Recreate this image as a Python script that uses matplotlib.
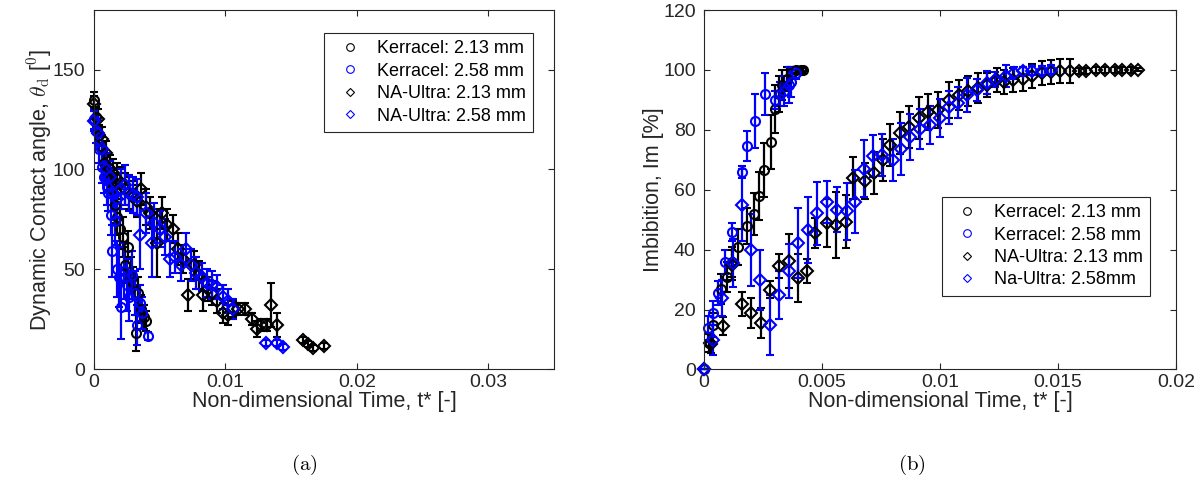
import numpy as np
import matplotlib
matplotlib.use('Agg')
import matplotlib.pyplot as plt
from matplotlib.lines import Line2D

plt.rcParams['font.family'] = ['Liberation Sans', 'DejaVu Sans']
plt.rcParams['mathtext.fontset'] = 'cm'

# ---------- (a) dynamic contact angle ----------
a_k213_t = [0, 0.0002, 0.0004, 0.0006, 0.0008, 0.0010, 0.0012, 0.0014, 0.0016, 0.0018,
            0.0020, 0.0022, 0.0024, 0.0026, 0.0028, 0.0030, 0.0032, 0.0034, 0.0036, 0.0038, 0.0040]
a_k213_th = [135, 126, 117, 110, 103, 99, 95, 90, 82, 76, 70, 66, 52, 61, 47, 43, 18, 38, 30, 26, 24]
a_k213_err = [4, 5, 5, 6, 6, 7, 7, 8, 9, 9, 10, 10, 9, 8, 9, 8, 9, 8, 7, 6, 5]

a_k258_t = [0, 0.0002, 0.0004, 0.0006, 0.0008, 0.0010, 0.0011, 0.0013, 0.0014, 0.0016, 0.0018,
            0.0019, 0.0021, 0.0023, 0.0025, 0.0027, 0.0029, 0.0031, 0.0033, 0.0035, 0.0037, 0.0041]
a_k258_th = [125, 119, 110, 101, 96, 91, 88, 77, 59, 74, 50, 46, 31, 49, 42, 36, 47, 38, 22, 33, 28, 16.5]
a_k258_err = [5, 6, 7, 8, 8, 9, 9, 10, 13, 12, 14, 15, 16, 14, 13, 12, 12, 11, 10, 9, 8, 2]

a_na213_t = [0, 0.0003, 0.0006, 0.0009, 0.0012, 0.0015, 0.0018, 0.0021, 0.0024, 0.0027,
             0.0030, 0.0033, 0.0036, 0.0040, 0.0043, 0.0048, 0.0052, 0.0056, 0.0060, 0.0064,
             0.0068, 0.0072, 0.0076, 0.0080, 0.0083, 0.0087, 0.0090, 0.0094, 0.0098, 0.0102,
             0.0106, 0.0110, 0.0115, 0.0120, 0.0124, 0.0127, 0.0132, 0.0135, 0.0139, 0.0159,
             0.0163, 0.0167, 0.0175]
a_na213_th = [133, 125, 115, 108, 100, 98, 95, 93, 90, 88, 86, 84, 90, 81, 78, 63, 78, 72, 70, 60,
              55, 37, 52, 47, 37, 40, 38, 34, 28, 27, 30, 30, 30, 25, 20, 22, 22, 32, 22, 14.5,
              12.5, 10.7, 11.5]
a_na213_err = [4, 5, 6, 6, 7, 7, 8, 8, 8, 8, 8, 8, 8, 9, 8, 17, 8, 8, 7, 8,
               7, 8, 7, 7, 8, 6, 6, 6, 5, 5, 4, 3, 3, 3, 4, 3, 3, 11, 6, 1.5,
               1.5, 1.5, 1.5]

a_na258_t = [0, 0.0003, 0.0006, 0.0009, 0.0012, 0.0015, 0.0018, 0.0021, 0.0024, 0.0027,
             0.0030, 0.0033, 0.0035, 0.0040, 0.0044, 0.0046, 0.0050, 0.0054, 0.0058, 0.0062,
             0.0066, 0.0070, 0.0074, 0.0078, 0.0082, 0.0086, 0.0090, 0.0094, 0.0098, 0.0102,
             0.0106, 0.0131, 0.0139, 0.0144]
a_na258_th = [124, 118, 110, 100, 96, 88, 85, 90, 92, 88, 87, 86, 67, 78, 63, 73, 70, 66, 55, 56,
              52, 60, 52, 48, 46, 43, 42, 41, 36, 34, 30, 13, 13, 11]
a_na258_err = [5, 6, 7, 8, 8, 9, 9, 10, 10, 9, 9, 9, 17, 10, 17, 10, 9, 9, 9, 8,
               8, 8, 8, 8, 7, 7, 7, 6, 6, 6, 5, 1.5, 1.5, 1.5]

# ---------- (b) imbibition ----------
b_k213_t = [0, 0.0002, 0.0004, 0.0007, 0.00096, 0.0012, 0.00146, 0.00184, 0.0021, 0.00235,
            0.00256, 0.00284, 0.0030, 0.00316, 0.0033, 0.0035, 0.0037, 0.0039, 0.0041, 0.0042]
b_k213_im = [0, 9, 15, 27, 31, 36, 41, 48, 52, 57.8, 66.7, 75.8, 87, 92, 95, 97, 99, 100, 100, 100]
b_k213_err = [0, 3, 4, 5, 5, 5, 6, 6, 7, 8, 9, 9, 8, 6, 5, 4, 2, 1, 1, 0.5]

b_k258_t = [0, 0.00018, 0.0004, 0.0006, 0.0009, 0.00117, 0.0016, 0.00184, 0.00214, 0.0026,
            0.0030, 0.0032, 0.0034, 0.0036, 0.0037, 0.0039]
b_k258_im = [0, 14, 19, 25.5, 36, 46, 66, 74.5, 83, 92, 90, 92, 93, 95, 96, 99]
b_k258_err = [0, 4, 4, 4, 4, 3, 2, 5, 9, 7, 3, 4, 5, 6, 5, 2]

b_na213_t = [0, 0.00025, 0.0003, 0.00082, 0.0012, 0.0016, 0.0020, 0.0024, 0.0028, 0.00316,
             0.0036, 0.0040, 0.00436, 0.0047, 0.0052, 0.0056, 0.0060, 0.0063, 0.0068, 0.0072,
             0.0076, 0.0079, 0.0083, 0.0087, 0.0091, 0.0095, 0.0099, 0.0104, 0.0108, 0.0112,
             0.0116, 0.0120, 0.0124, 0.0127, 0.0131, 0.0135, 0.0139, 0.0143, 0.0147, 0.0151,
             0.0155, 0.0159, 0.0162, 0.0166, 0.0170, 0.0174, 0.0177, 0.0181, 0.0184]
b_na213_im = [0, 9, 8.5, 14.4, 35, 22, 19, 15.5, 26.7, 34.4, 36.3, 30.6, 32.8, 45.6, 48.9, 48.3,
              49.4, 64, 63, 65.5, 70, 75, 79, 81, 84, 86, 86.7, 90, 91.7, 93, 94, 95, 96.7, 96,
              96.5, 97, 98, 98.9, 99.3, 99.6, 99.6, 99.7, 99.8, 100, 100, 100, 100, 100, 100]
b_na213_err = [0, 3, 3, 3, 5, 4, 5, 5, 3, 4, 9, 8, 4, 5, 8, 11, 9, 7, 6, 7, 7, 7, 7, 7, 7, 6,
               6, 6, 5, 5, 5, 4, 4, 4, 4, 4, 4, 4, 4, 4, 4, 1, 1, 1, 1, 1, 1, 1, 0.5]

b_na258_t = [0, 0.0004, 0.00075, 0.00122, 0.0016, 0.0020, 0.00238, 0.0028, 0.00318, 0.0036,
             0.0040, 0.0044, 0.00478, 0.0052, 0.00563, 0.00606, 0.0064, 0.00676, 0.00716, 0.00754,
             0.0080, 0.00835, 0.00874, 0.00917, 0.00956, 0.00998, 0.01037, 0.01077, 0.01115, 0.01158,
             0.0120, 0.01235, 0.01278, 0.01313, 0.0135, 0.0139, 0.0143, 0.0147]
b_na258_im = [0, 10, 24, 35.5, 55, 40, 30, 15, 25, 32.8, 42.2, 46.7, 52.2, 56, 53.3, 52.8, 56, 67,
              71.3, 71.7, 70, 73.6, 77.6, 80.2, 81.7, 83.9, 87.6, 89.1, 91.6, 93.3, 95.8, 96.7,
              98, 99.1, 99.5, 99.7, 99.8, 100]
b_na258_err = [0, 5, 6, 8, 12, 12, 10, 10, 8, 9, 11.6, 11, 10.5, 7, 7.5, 9.5, 10.5, 9.5, 7, 7,
               7, 8.6, 7.8, 6.7, 6.4, 6.4, 5.5, 5.3, 5.8, 3.6, 4, 2.5, 3.6, 2, 1.5, 1.5, 1.5, 1.5]

labels_a = ['Kerracel: 2.13 mm', 'Kerracel: 2.58 mm', 'NA-Ultra: 2.13 mm', 'NA-Ultra: 2.58 mm']
labels_b = ['Kerracel: 2.13 mm', 'Kerracel: 2.58 mm', 'NA-Ultra: 2.13 mm', 'Na-Ultra: 2.58mm']
BLUE = (0, 0, 1)
styles = [('o', 'k'), ('o', BLUE), ('D', 'k'), ('D', BLUE)]
AXC = (0.15, 0.15, 0.15)
TICK_FS = 14
LABEL_FS = 15.5
LEG_FS = 13


def draw(ax, series):
    for (t, v, e), (mk, c) in zip(series, styles):
        ms = 6.5 if mk == 'o' else 6.3
        cont = ax.errorbar(t, v, yerr=e, fmt=mk, color=c, mfc='none', mec=c, ms=ms, mew=1.5,
                           elinewidth=1.6, capsize=3.2, capthick=1.6)
        cont.lines[0].set_clip_on(False)
        for art in cont.lines[1] + cont.lines[2]:
            art.set_clip_on(False)


def style(ax):
    for sp in ax.spines.values():
        sp.set_color(AXC)
        sp.set_linewidth(0.8)
    ax.tick_params(direction='in', top=True, right=True, length=4, width=0.8,
                   colors=AXC, labelsize=TICK_FS, labelcolor=AXC, pad=6)
    ax.tick_params(axis='x', pad=3.5)
    ax.set_xlabel('Non-dimensional Time, t* [-]', fontsize=LABEL_FS, color=AXC, labelpad=0)


def add_legend(ax, labels, anchor):
    handles = [Line2D([], [], ls='none', marker=mk, mfc='none', mec=c, ms=(5.5 if mk == 'o' else 4.5),
                      mew=0.8) for mk, c in styles]
    leg = ax.legend(handles, labels, loc='upper right', bbox_to_anchor=anchor, borderaxespad=0,
                    fontsize=LEG_FS, frameon=True, fancybox=False, framealpha=1, edgecolor=AXC,
                    labelspacing=0.3, handlelength=2.0, handletextpad=0.5, borderpad=0.4)
    leg.get_frame().set_linewidth(0.8)


fig = plt.figure(figsize=(12.02, 4.84), dpi=100)
ax1 = fig.add_axes([0.078, 0.2376, 0.3829, 0.7424])
ax2 = fig.add_axes([0.5857, 0.2366, 0.3927, 0.7427])

draw(ax1, [(a_k213_t, a_k213_th, a_k213_err), (a_k258_t, a_k258_th, a_k258_err),
           (a_na213_t, a_na213_th, a_na213_err), (a_na258_t, a_na258_th, a_na258_err)])
ax1.set_xlim(0, 0.035)
ax1.set_ylim(0, 180)
ax1.set_xticks([0, 0.01, 0.02, 0.03])
ax1.set_xticklabels(['0', '0.01', '0.02', '0.03'])
ax1.set_yticks([0, 50, 100, 150])
style(ax1)
ax1.set_ylabel(r'Dynamic Contact angle, $\theta_{\rm d}$ [$^0$]', fontsize=LABEL_FS, color=AXC, labelpad=-1)
add_legend(ax1, labels_a, (0.954, 0.935))

draw(ax2, [(b_k213_t, b_k213_im, b_k213_err), (b_k258_t, b_k258_im, b_k258_err),
           (b_na213_t, b_na213_im, b_na213_err), (b_na258_t, b_na258_im, b_na258_err)])
ax2.set_xlim(0, 0.02)
ax2.set_ylim(0, 120)
ax2.set_xticks([0, 0.005, 0.01, 0.015, 0.02])
ax2.set_xticklabels(['0', '0.005', '0.01', '0.015', '0.02'])
ax2.set_yticks([0, 20, 40, 60, 80, 100, 120])
style(ax2)
ax2.set_ylabel('Imbibition, Im [%]', fontsize=LABEL_FS, color=AXC, labelpad=-1)
add_legend(ax2, labels_b, (0.945, 0.48))

fig.text(304 / 1202, 1 - 465 / 484, r'$\mathrm{(a)}$', ha='center', va='center', fontsize=15)
fig.text(912 / 1202, 1 - 465 / 484, r'$\mathrm{(b)}$', ha='center', va='center', fontsize=15)

fig.savefig('out.png', dpi=100)
